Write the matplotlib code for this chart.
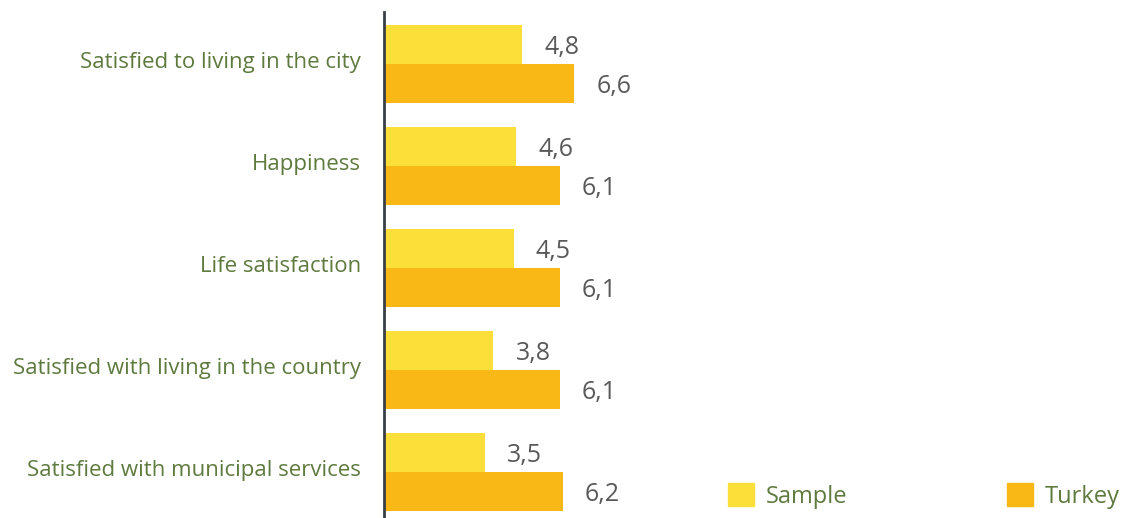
import matplotlib.pyplot as plt
from matplotlib.patches import Patch
import matplotlib.transforms as mtransforms
import numpy as np

# data
categories = ['Satisfied to living in the city', 'Happiness', 'Life satisfaction',
              'Satisfied with living in the country', 'Satisfied with municipal services']
sample = [4.8, 4.6, 4.5, 3.8, 3.5]
turkey = [6.6, 6.1, 6.1, 6.1, 6.2]
value_labels_sample = ['4,8', '4,6', '4,5', '3,8', '3,5']
value_labels_turkey = ['6,6', '6,1', '6,1', '6,1', '6,2']

c_sample = '#FCDF38'
c_turkey = '#F9B816'
c_green = '#5E7A3E'
c_grey = '#595959'

plt.rcParams['font.family'] = ['Open Sans', 'DejaVu Sans']

fig = plt.figure(figsize=(11.26, 5.18), dpi=100)
ax = fig.add_axes([384 / 1126, 0, 1 - 384 / 1126, 506 / 518])

y = np.arange(len(categories))
h = 0.38
ax.barh(y - h / 2, sample, height=h, color=c_sample)
ax.barh(y + h / 2, turkey, height=h, color=c_turkey)

# value labels to the right of the bars
for i in range(len(categories)):
    ax.text(sample[i] + 1.38, y[i] - h / 2 + 0.03, value_labels_sample[i],
            ha='center', va='center', fontsize=18, color=c_grey)
    ax.text(turkey[i] + 1.38, y[i] + h / 2 + 0.03, value_labels_turkey[i],
            ha='center', va='center', fontsize=18, color=c_grey)

ax.set_xlim(0, 742 / 28.8)
ax.set_ylim(4.45, -0.51)
ax.set_yticks(y)
ax.set_yticklabels(categories, fontsize=16, color=c_green)
ax.tick_params(axis='y', length=0, pad=16.5)
# nudge category labels up a little
shift = mtransforms.ScaledTranslation(0, 4 / 100, fig.dpi_scale_trans)
for lbl in ax.get_yticklabels():
    lbl.set_transform(lbl.get_transform() + shift)
ax.set_xticks([])
for s in ['top', 'right', 'bottom']:
    ax.spines[s].set_visible(False)
ax.spines['left'].set_color('#3A3F47')
ax.spines['left'].set_linewidth(2)

handles = [Patch(color=c_sample, label='Sample'), Patch(color=c_turkey, label='Turkey')]
fig.legend(handles=handles, loc='center left', bbox_to_anchor=(728 / 1126, 1 - 496 / 518),
           ncol=2, frameon=False, fontsize=17, handlelength=1.1, handleheight=1.1,
           handletextpad=0.5, columnspacing=6.75, borderpad=0, borderaxespad=0,
           labelcolor=c_green)

fig.savefig('out.png', dpi=100)
